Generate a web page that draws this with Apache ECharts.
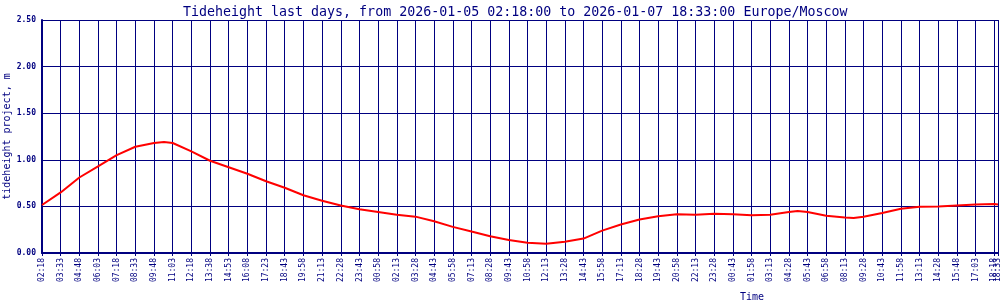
<!DOCTYPE html>
<html>
<head>
<meta charset="utf-8">
<script src="https://cdn.jsdelivr.net/npm/echarts@6/dist/echarts.min.js"></script>
<style>
html,body{margin:0;padding:0;background:#fff;}
#chart{width:1000px;height:300px;}
</style>
</head>
<body>
<div id="chart"></div>
<script>
// x positions are sample indices (5-minute steps from 2026-01-05 02:18)
const sampleIndex = [0,15,30,45,60,75,90,98,105,120,135,150,165,180,195,210,225,240,255,270,285,300,315,330,345,360,375,390,405,420,435,450,465,480,495,510,525,540,555,570,585,600,607,615,630,645,652,660,675,690,705,720,735,750,765,768];
const tideHeight = [0.515,0.65,0.81,0.93,1.05,1.14,1.18,1.19,1.18,1.09,0.99,0.92,0.85,0.77,0.70,0.62,0.56,0.51,0.47,0.44,0.41,0.39,0.34,0.28,0.23,0.18,0.14,0.11,0.10,0.12,0.155,0.24,0.305,0.36,0.395,0.415,0.41,0.42,0.415,0.405,0.41,0.44,0.45,0.44,0.40,0.38,0.375,0.39,0.43,0.475,0.495,0.50,0.51,0.52,0.525,0.52];
const tickLabels = ["02:18","03:33","04:48","06:03","07:18","08:33","09:48","11:03","12:18","13:38","14:53","16:08","17:23","18:43","19:58","21:13","22:28","23:43","00:58","02:13","03:28","04:43","05:58","07:13","08:28","09:43","10:58","12:13","13:28","14:43","15:58","17:13","18:28","19:43","20:58","22:13","23:28","00:43","01:58","03:13","04:28","05:43","06:58","08:13","09:28","10:43","11:58","13:13","14:28","15:48","17:03","18:18"];
const endLabel = "18:33";
const lastIndex = 768;
const tickStep = 15;
const titleText = "Tideheight last days, from 2026-01-05 02:18:00 to 2026-01-07 18:33:00 Europe/Moscow";
const yAxisTitle = "tideheight project, m";
const xAxisTitle = "Time";

const navy = '#000080';
const mono = 'DejaVu Sans Mono';
const points = sampleIndex.map((x, i) => [x, tideHeight[i]]);

const chart = echarts.init(document.getElementById('chart'), null, {renderer: 'canvas'});
chart.setOption({
  animation: false,
  backgroundColor: '#fff',
  title: [
    {text: titleText, left: 178, top: 1, textStyle: {color: navy, fontFamily: mono, fontSize: 13.3, fontWeight: 'normal'}},
    {text: xAxisTitle, left: 735, top: 287, textStyle: {color: navy, fontFamily: mono, fontSize: 10, fontWeight: 'normal'}}
  ],
  grid: {left: 42, right: 2, top: 20, bottom: 47, containLabel: false, outerBoundsMode: 'none'},
  xAxis: [{
    type: 'value', position: 'bottom', min: 0, max: lastIndex, interval: tickStep,
    axisLine: {show: true, lineStyle: {color: navy, width: 2}},
    axisTick: {show: true, length: 3, lineStyle: {color: navy, width: 1}},
    splitLine: {show: true, lineStyle: {color: navy, width: 1}},
    axisLabel: {
      rotate: 90, margin: 5, color: navy, fontFamily: mono, fontSize: 8,
      showMinLabel: true, showMaxLabel: false,
      formatter: function (v) {
        if (v >= lastIndex) return endLabel;
        return tickLabels[Math.round(v / tickStep)];
      }
    }
  }, {
    type: 'value', position: 'bottom', min: 0, max: lastIndex, interval: lastIndex,
    axisLine: {show: false},
    axisTick: {show: true, length: 3, lineStyle: {color: navy, width: 1}},
    splitLine: {show: false},
    axisLabel: {
      rotate: 90, margin: 5, color: navy, fontFamily: mono, fontSize: 8,
      showMinLabel: false, showMaxLabel: true,
      formatter: function (v) { return v >= lastIndex ? endLabel : ''; }
    }
  }],
  yAxis: {
    type: 'value', min: 0, max: 2.5, interval: 0.5,
    name: yAxisTitle, nameLocation: 'middle', nameGap: 30, nameMoveOverlap: false,
    nameTextStyle: {color: navy, fontFamily: mono, fontSize: 10},
    axisLine: {show: true, lineStyle: {color: navy, width: 2}},
    axisTick: {show: false},
    splitLine: {show: true, lineStyle: {color: navy, width: 1}},
    axisLabel: {color: navy, fontFamily: mono, fontSize: 8, fontWeight: 'bold', margin: 6,
      formatter: v => v.toFixed(2)}
  },
  series: [{
    type: 'line', data: points, xAxisIndex: 0, showSymbol: false, smooth: false,
    lineStyle: {color: '#ff0000', width: 2}, z: 5
  }]
});
</script>
</body>
</html>
